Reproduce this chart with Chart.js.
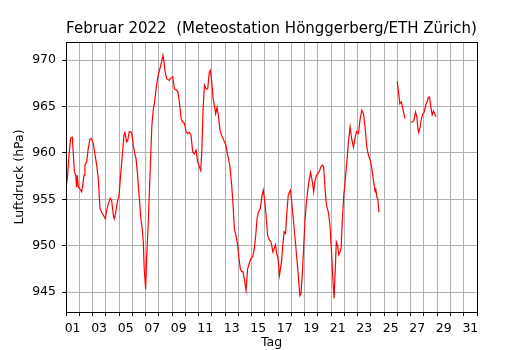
<!DOCTYPE html>
<html>
<head>
<meta charset="utf-8">
<script src="https://cdn.jsdelivr.net/npm/chart.js@4"></script>
<style>
  html, body { margin: 0; padding: 0; background: #fff; }
  #wrap { width: 530px; height: 350px; }
</style>
</head>
<body>
<div id="wrap"><canvas id="chart" width="530" height="350"></canvas></div>
<script>
// Luftdruck Februar 2022, x = Tage seit 1. Feb 00:00, null = Datenlücke
const days = [
    0.00, 0.10, 0.25, 0.35, 0.48, 0.55, 0.63, 0.73, 0.80, 0.85, 0.93, 1.06, 1.18, 1.23, 1.36, 1.43,
    1.56, 1.68, 1.81, 1.93, 2.06, 2.19, 2.31, 2.44, 2.56, 2.69, 2.81, 2.96, 3.07, 3.19, 3.34, 3.44,
    3.57, 3.64, 3.74, 3.87, 4.00, 4.12, 4.25, 4.37, 4.45, 4.57, 4.65, 4.77, 4.95, 5.08, 5.20, 5.28,
    5.40, 5.53, 5.65, 5.75, 5.83, 5.90, 6.01, 6.08, 6.21, 6.28, 6.38, 6.48, 6.58, 6.68, 6.83, 6.96,
    7.09, 7.21, 7.31, 7.39, 7.46, 7.59, 7.79, 7.87, 8.05, 8.18, 8.30, 8.43, 8.55, 8.68, 8.80, 8.93,
    9.06, 9.18, 9.31, 9.43, 9.56, 9.68, 9.81, 9.93, 10.06, 10.16, 10.24, 10.34, 10.44, 10.56, 10.69, 10.81,
    10.89, 10.99, 11.09, 11.19, 11.29, 11.39, 11.49, 11.62, 11.74, 11.89, 12.07, 12.20, 12.35, 12.50, 12.60, 12.70,
    12.82, 12.95, 13.05, 13.15, 13.25, 13.35, 13.45, 13.58, 13.70, 13.83, 13.95, 14.08, 14.21, 14.31, 14.41, 14.51,
    14.66, 14.78, 14.88, 14.96, 15.09, 15.21, 15.34, 15.46, 15.61, 15.70, 15.80, 15.90, 16.00, 16.10, 16.18, 16.25,
    16.35, 16.45, 16.56, 16.66, 16.76, 16.86, 16.93, 17.01, 17.14, 17.26, 17.39, 17.52, 17.64, 17.72, 17.82, 17.92,
    18.02, 18.12, 18.22, 18.35, 18.45, 18.58, 18.68, 18.78, 18.90, 19.03, 19.13, 19.23, 19.33, 19.43, 19.54, 19.64,
    19.79, 19.91, 20.04, 20.14, 20.22, 20.29, 20.39, 20.49, 20.57, 20.67, 20.75, 20.85, 20.95, 21.05, 21.18, 21.30,
    21.43, 21.55, 21.68, 21.81, 21.93, 22.06, 22.19, 22.31, 22.44, 22.57, 22.69, 22.82, 22.95, 23.07, 23.20, 23.32,
    23.36, 23.44, 23.52, 23.60, 24.30, 24.98, 25.11, 25.18, 25.28, 25.36, 25.46, 25.56, 25.80, 26.01, 26.11, 26.24,
    26.36, 26.46, 26.54, 26.61, 26.71, 26.81, 26.91, 27.02, 27.12, 27.24, 27.34, 27.42, 27.52, 27.62, 27.72, 27.82,
    27.92
];
const pressure = [
    956.4, 957.2, 960.1, 961.6, 961.7, 959.9, 958.0, 957.6, 956.3, 957.6, 956.3, 956.1, 955.8, 956.2, 957.6, 958.7,
    959.0, 960.5, 961.5, 961.5, 961.0, 959.8, 958.7, 957.2, 954.0, 953.6, 953.3, 952.9, 953.8, 954.5, 955.1, 954.9,
    953.3, 952.9, 953.5, 954.7, 955.4, 957.6, 959.8, 961.9, 962.2, 961.2, 961.3, 962.3, 962.2, 960.8, 959.8, 959.4,
    957.6, 955.1, 952.9, 951.8, 950.4, 947.5, 945.3, 948.6, 952.6, 955.4, 959.4, 963.0, 964.6, 965.5, 967.3, 968.4,
    969.1, 969.8, 970.5, 969.8, 968.9, 968.0, 967.8, 968.0, 968.2, 966.9, 966.8, 966.6, 965.5, 963.7, 963.3, 963.2,
    962.3, 962.1, 962.2, 961.9, 960.1, 959.9, 960.3, 959.0, 958.5, 958.1, 960.1, 964.7, 967.3, 966.9, 966.9, 968.7,
    968.9, 967.7, 965.9, 965.1, 964.2, 964.9, 964.1, 962.4, 961.9, 961.4, 960.8, 959.7, 958.7, 956.5, 954.4, 951.8,
    951.1, 950.0, 948.6, 947.5, 947.2, 947.2, 946.4, 945.2, 947.5, 948.1, 948.6, 948.8, 949.7, 951.1, 952.9, 953.6,
    954.0, 955.4, 956.0, 955.1, 953.3, 951.1, 950.6, 950.4, 949.3, 949.7, 950.1, 949.1, 948.6, 946.8, 947.5, 948.2,
    950.0, 951.5, 951.3, 953.6, 955.4, 955.8, 956.0, 954.9, 952.9, 951.1, 949.0, 946.8, 944.6, 944.8, 946.8, 949.7,
    952.6, 954.4, 955.8, 957.2, 957.9, 956.9, 955.8, 957.0, 957.6, 957.8, 958.1, 958.5, 958.7, 958.5, 956.2, 954.4,
    953.6, 952.2, 949.0, 946.1, 944.3, 946.8, 950.4, 950.0, 949.0, 949.3, 949.7, 952.9, 955.4, 956.9, 959.0, 961.1,
    962.8, 961.5, 960.6, 961.7, 962.3, 962.1, 963.7, 964.6, 964.2, 962.6, 960.6, 959.7, 959.2, 958.3, 956.9, 955.8,
    956.2, 955.3, 955.0, 953.6, null, 967.7, 966.2, 965.3, 965.5, 965.1, 964.4, 963.7, null, 963.3, 963.3, 963.5,
    964.4, 963.9, 962.6, 962.2, 962.8, 963.7, 964.2, 964.4, 965.1, 965.5, 966.0, 966.0, 964.9, 964.1, 964.5, 964.2,
    963.9
];
const yTicks = [945, 950, 955, 960, 965, 970];
const xTicks = Array.from({ length: 32 }, (_, i) => i);   // Tagesgrenzen 0..31
const titleText = 'Februar 2022  (Meteostation Hönggerberg/ETH Zürich)';

const FONT = 'DejaVu Sans';
Chart.defaults.font.family = FONT;
Chart.defaults.color = '#000';

// Rahmen rund um den Plotbereich (wie matplotlib)
const frame = {
    id: 'frame',
    afterDatasetsDraw(chart) {
        const { ctx, chartArea: a } = chart;
        ctx.save();
        ctx.strokeStyle = '#000';
        ctx.lineWidth = 1;
        ctx.strokeRect(Math.round(a.left) + 0.5, Math.round(a.top) + 0.5,
            Math.round(a.right - a.left), Math.round(a.bottom - a.top));
        ctx.restore();
    }
};

new Chart(document.getElementById('chart'), {
    type: 'line',
    data: {
        datasets: [{
            data: days.map((d, i) => ({ x: d, y: pressure[i] })),
            borderColor: '#ff0000',
            borderWidth: 1.2,
            pointRadius: 0,
            tension: 0,
            spanGaps: false
        }]
    },
    options: {
        responsive: false,
        animation: false,
        layout: { padding: { left: 0, right: 53, top: 0, bottom: 0 } },
        plugins: {
            legend: { display: false },
            tooltip: { enabled: false },
            title: {
                display: true,
                text: titleText,
                fullSize: false,
                font: { family: FONT, size: 15, weight: 'normal', lineHeight: 1.2 },
                padding: { top: 20, bottom: 4 }
            }
        },
        scales: {
            x: {
                type: 'linear',
                min: 0,
                max: 31,
                afterBuildTicks: s => { s.ticks = xTicks.map(v => ({ value: v })); },
                afterFit: s => { s.height = 38; },
                grid: { color: '#b0b0b0', lineWidth: 1, tickColor: '#000', tickLength: 4 },
                border: { color: '#000' },
                ticks: {
                    autoSkip: false,
                    maxRotation: 0,
                    padding: 5,
                    labelOffset: 6.6,
                    font: { size: 12.5 },
                    callback: v => (v % 2 === 0 && v < 31) ? String(v + 1).padStart(2, '0') : ''
                },
                title: {
                    display: true,
                    text: 'Tag',
                    font: { size: 12.5, lineHeight: 1.2 },
                    padding: { top: 0, bottom: 0 }
                }
            },
            y: {
                min: 942.85,
                max: 971.95,
                afterBuildTicks: s => { s.ticks = yTicks.map(v => ({ value: v })); },
                afterFit: s => { s.width = 66; },
                grid: { color: '#b0b0b0', lineWidth: 1, tickColor: '#000', tickLength: 4 },
                border: { color: '#000' },
                ticks: { padding: 6, font: { size: 12.5 } },
                title: {
                    display: true,
                    text: 'Luftdruck (hPa)',
                    font: { size: 12.5, lineHeight: 1.2 },
                    padding: { top: 12, bottom: 0 }
                }
            }
        }
    },
    plugins: [frame]
});
</script>
</body>
</html>
